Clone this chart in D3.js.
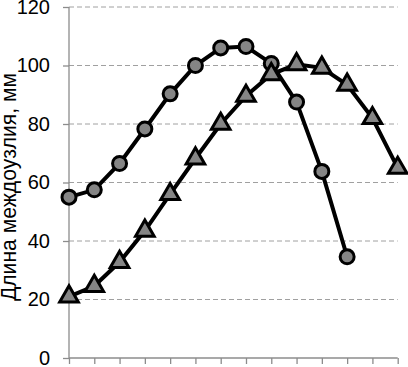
<!DOCTYPE html>
<html>
<head>
<meta charset="utf-8">
<script src="https://cdn.jsdelivr.net/npm/d3@7"></script>
<style>
  body { margin: 0; background: #fff; }
  text { font-family: "Liberation Sans", Arial, sans-serif; }
</style>
</head>
<body>
<svg id="chart" width="408" height="367"></svg>
<script>
// данные
let positions = d3.range(14);
let circleValues = [55, 57.5, 66.5, 78.3, 90.3, 100, 106, 106.5, 100.7, 87.5, 63.8, 34.6];
let triangleValues = [21, 24.6, 32.8, 43.5, 56, 68.2, 80, 89.6, 97, 100.4, 99.2, 93.4, 82, 65];
let yTicks = [0, 20, 40, 60, 80, 100, 120];
let yLabel = "Длина междоузлия, мм";

let svg = d3.select("#chart");

let x = d3.scaleLinear()
    .domain([0, 13])
    .range([69, 397.7]);

let y = d3.scaleLinear()
    .domain([0, 120])
    .range([358, 7]);

// сетка
svg.append("g")
    .selectAll("line")
    .data(yTicks.filter(d => d > 0))
    .enter()
    .append("line")
    .attr("x1", x(0))
    .attr("x2", x(13))
    .attr("y1", d => y(d))
    .attr("y2", d => y(d))
    .attr("stroke", "#a0a0a0")
    .attr("stroke-width", 1)
    .attr("stroke-dasharray", "5,3");

// ось Y
let yAxis = svg.append("g")
    .attr("transform", "translate(" + x(0) + ",0)")
    .call(d3.axisLeft(y).tickValues(yTicks).tickSize(6).tickPadding(13));
yAxis.selectAll("text")
    .style("font-size", "20px")
    .attr("fill", "#000");

// ось X
let xAxis = svg.append("g")
    .attr("transform", "translate(0," + y(0) + ")")
    .call(d3.axisBottom(x).tickValues(positions).tickSize(6).tickFormat(""));

svg.selectAll(".domain, .tick line")
    .attr("stroke", "#8c8c8c")
    .attr("stroke-width", 1.3);
yAxis.select(".domain").attr("d", "M0," + y(120) + "V" + y(0));
xAxis.select(".domain").attr("d", "M" + x(0) + ",0H" + x(13));

// подпись оси Y
svg.append("text")
    .attr("transform", "translate(16," + 187 + ") rotate(-90)")
    .attr("text-anchor", "middle")
    .attr("textLength", 228)
    .attr("lengthAdjust", "spacingAndGlyphs")
    .style("font-size", "22px")
    .text(yLabel);

let line = d3.line()
    .x((d, i) => x(i))
    .y(d => y(d));

// серия с кругами
svg.append("path")
    .datum(circleValues)
    .attr("d", line)
    .attr("fill", "none")
    .attr("stroke", "#000")
    .attr("stroke-width", 4);

// серия с треугольниками
svg.append("path")
    .datum(triangleValues)
    .attr("d", line)
    .attr("fill", "none")
    .attr("stroke", "#000")
    .attr("stroke-width", 4);

svg.append("g")
    .selectAll("circle")
    .data(circleValues)
    .enter()
    .append("circle")
    .attr("cx", (d, i) => x(i))
    .attr("cy", d => y(d))
    .attr("r", 7)
    .attr("fill", "#858585")
    .attr("stroke", "#000")
    .attr("stroke-width", 3);

let tri = d3.symbol().type(d3.symbolTriangle).size(150);
svg.append("g")
    .selectAll("path")
    .data(triangleValues)
    .enter()
    .append("path")
    .attr("d", tri)
    .attr("transform", (d, i) => "translate(" + x(i) + "," + y(d) + ")")
    .attr("fill", "#858585")
    .attr("stroke", "#000")
    .attr("stroke-width", 3)
    .attr("stroke-linejoin", "miter");
</script>
</body>
</html>
